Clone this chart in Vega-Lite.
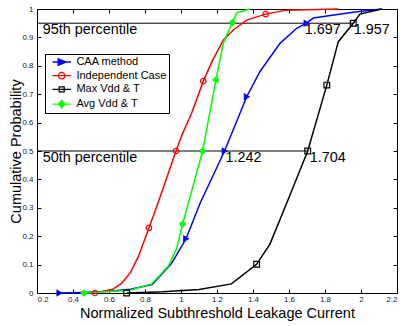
{
  "$schema": "https://vega.github.io/schema/vega-lite/v6.json",
  "width": 360,
  "height": 284,
  "autosize": {"type": "none"},
  "padding": {"left": 37, "top": 9, "right": 3, "bottom": 33},
  "background": "white",
  "config": {
    "font": "Liberation Sans",
    "view": {"stroke": "black", "strokeWidth": 1},
    "axis": {"grid": false, "domain": false, "tickColor": "black", "tickWidth": 1, "labelFont": "Liberation Sans", "labelFontSize": 8, "labelColor": "#222222", "titleFont": "Liberation Sans", "titleFontSize": 14.5, "titleFontWeight": "normal", "titleColor": "black"}
  },
  "datasets": {
    "lines": [
      {"series": "CAA method", "x": 0.324, "y": 0},
      {"series": "CAA method", "x": 0.45, "y": 0.002},
      {"series": "CAA method", "x": 0.6, "y": 0.006},
      {"series": "CAA method", "x": 0.72, "y": 0.013},
      {"series": "CAA method", "x": 0.84, "y": 0.03},
      {"series": "CAA method", "x": 0.948, "y": 0.105},
      {"series": "CAA method", "x": 1.028, "y": 0.191},
      {"series": "CAA method", "x": 1.106, "y": 0.316},
      {"series": "CAA method", "x": 1.242, "y": 0.5},
      {"series": "CAA method", "x": 1.365, "y": 0.691},
      {"series": "CAA method", "x": 1.439, "y": 0.78},
      {"series": "CAA method", "x": 1.55, "y": 0.879},
      {"series": "CAA method", "x": 1.643, "y": 0.932},
      {"series": "CAA method", "x": 1.697, "y": 0.95},
      {"series": "CAA method", "x": 1.735, "y": 0.968},
      {"series": "CAA method", "x": 1.976, "y": 0.99},
      {"series": "CAA method", "x": 2.115, "y": 1.0},
      {"series": "Independent Case", "x": 0.522, "y": 0},
      {"series": "Independent Case", "x": 0.62, "y": 0.013},
      {"series": "Independent Case", "x": 0.67, "y": 0.034},
      {"series": "Independent Case", "x": 0.717, "y": 0.07},
      {"series": "Independent Case", "x": 0.763, "y": 0.128},
      {"series": "Independent Case", "x": 0.822, "y": 0.229},
      {"series": "Independent Case", "x": 0.865, "y": 0.304},
      {"series": "Independent Case", "x": 0.92, "y": 0.404},
      {"series": "Independent Case", "x": 0.972, "y": 0.5},
      {"series": "Independent Case", "x": 1.009, "y": 0.562},
      {"series": "Independent Case", "x": 1.059, "y": 0.633},
      {"series": "Independent Case", "x": 1.124, "y": 0.746},
      {"series": "Independent Case", "x": 1.176, "y": 0.82},
      {"series": "Independent Case", "x": 1.235, "y": 0.89},
      {"series": "Independent Case", "x": 1.29, "y": 0.926},
      {"series": "Independent Case", "x": 1.365, "y": 0.961},
      {"series": "Independent Case", "x": 1.47, "y": 0.982},
      {"series": "Independent Case", "x": 1.587, "y": 0.996},
      {"series": "Independent Case", "x": 1.874, "y": 1.0},
      {"series": "Max Vdd & T", "x": 0.698, "y": 0},
      {"series": "Max Vdd & T", "x": 0.9, "y": 0.004},
      {"series": "Max Vdd & T", "x": 1.1, "y": 0.012},
      {"series": "Max Vdd & T", "x": 1.28, "y": 0.032},
      {"series": "Max Vdd & T", "x": 1.42, "y": 0.101},
      {"series": "Max Vdd & T", "x": 1.494, "y": 0.172},
      {"series": "Max Vdd & T", "x": 1.587, "y": 0.316},
      {"series": "Max Vdd & T", "x": 1.704, "y": 0.5},
      {"series": "Max Vdd & T", "x": 1.81, "y": 0.732},
      {"series": "Max Vdd & T", "x": 1.874, "y": 0.885},
      {"series": "Max Vdd & T", "x": 1.957, "y": 0.95},
      {"series": "Max Vdd & T", "x": 1.994, "y": 0.982},
      {"series": "Max Vdd & T", "x": 2.115, "y": 1.0},
      {"series": "Avg Vdd & T", "x": 0.461, "y": 0},
      {"series": "Avg Vdd & T", "x": 0.6, "y": 0.005},
      {"series": "Avg Vdd & T", "x": 0.717, "y": 0.01},
      {"series": "Avg Vdd & T", "x": 0.837, "y": 0.032},
      {"series": "Avg Vdd & T", "x": 0.93, "y": 0.095},
      {"series": "Avg Vdd & T", "x": 0.976, "y": 0.157},
      {"series": "Avg Vdd & T", "x": 1.009, "y": 0.243},
      {"series": "Avg Vdd & T", "x": 1.12, "y": 0.5},
      {"series": "Avg Vdd & T", "x": 1.194, "y": 0.75},
      {"series": "Avg Vdd & T", "x": 1.235, "y": 0.88},
      {"series": "Avg Vdd & T", "x": 1.285, "y": 0.952},
      {"series": "Avg Vdd & T", "x": 1.31, "y": 0.987},
      {"series": "Avg Vdd & T", "x": 1.383, "y": 1.0}
    ],
    "markers": [
      {"series": "CAA method", "x": 0.324, "y": 0},
      {"series": "CAA method", "x": 1.028, "y": 0.191},
      {"series": "CAA method", "x": 1.242, "y": 0.5},
      {"series": "CAA method", "x": 1.365, "y": 0.691},
      {"series": "CAA method", "x": 1.697, "y": 0.95},
      {"series": "Independent Case", "x": 0.522, "y": 0},
      {"series": "Independent Case", "x": 0.822, "y": 0.229},
      {"series": "Independent Case", "x": 0.972, "y": 0.5},
      {"series": "Independent Case", "x": 1.124, "y": 0.746},
      {"series": "Independent Case", "x": 1.47, "y": 0.982},
      {"series": "Max Vdd & T", "x": 0.698, "y": 0},
      {"series": "Max Vdd & T", "x": 1.42, "y": 0.101},
      {"series": "Max Vdd & T", "x": 1.704, "y": 0.5},
      {"series": "Max Vdd & T", "x": 1.81, "y": 0.732},
      {"series": "Max Vdd & T", "x": 1.957, "y": 0.95},
      {"series": "Avg Vdd & T", "x": 0.461, "y": 0},
      {"series": "Avg Vdd & T", "x": 1.009, "y": 0.243},
      {"series": "Avg Vdd & T", "x": 1.12, "y": 0.5},
      {"series": "Avg Vdd & T", "x": 1.194, "y": 0.75},
      {"series": "Avg Vdd & T", "x": 1.285, "y": 0.952}
    ],
    "rules": [
      {"x": 0.2, "x2": 1.957, "y": 0.95},
      {"x": 0.2, "x2": 1.704, "y": 0.5}
    ],
    "labels": [
      {"x": 0.232, "y": 0.95, "text": "95th percentile"},
      {"x": 0.232, "y": 0.5, "text": "50th percentile"},
      {"x": 1.688, "y": 0.95, "text": "1.697"},
      {"x": 1.96, "y": 0.95, "text": "1.957"},
      {"x": 1.247, "y": 0.5, "text": "1.242"},
      {"x": 1.715, "y": 0.5, "text": "1.704"}
    ]
  },
  "resolve": {"axis": {"x": "independent", "y": "independent"}},
  "layer": [
    {
      "data": {"name": "rules"},
      "mark": {"type": "rule", "color": "black", "strokeWidth": 1},
      "encoding": {
        "x": {"field": "x", "type": "quantitative", "scale": {"domain": [0.2, 2.2], "nice": false, "zero": false},
              "axis": {"orient": "top", "labels": false, "title": null, "tickSize": -4, "values": [0.2, 0.4, 0.6, 0.8, 1, 1.2, 1.4, 1.6, 1.8, 2, 2.2]}},
        "x2": {"field": "x2"},
        "y": {"field": "y", "type": "quantitative", "scale": {"domain": [0, 1], "nice": false},
              "axis": {"orient": "right", "labels": false, "title": null, "tickSize": -4, "values": [0, 0.1, 0.2, 0.3, 0.4, 0.5, 0.6, 0.7, 0.8, 0.9, 1]}}
      }
    },
    {
      "data": {"name": "labels"},
      "mark": {"type": "text", "align": "left", "baseline": "top", "fontSize": 14.4, "font": "Liberation Sans", "color": "black"},
      "encoding": {
        "x": {"field": "x", "type": "quantitative", "axis": null},
        "y": {"field": "y", "type": "quantitative", "axis": null},
        "text": {"field": "text"}
      }
    },
    {
      "data": {"name": "lines"},
      "mark": {"type": "line", "strokeWidth": 1.5},
      "encoding": {
        "x": {"field": "x", "type": "quantitative",
              "axis": {"orient": "bottom", "title": "Normalized Subthreshold Leakage Current", "format": "~g", "tickSize": -4, "labelPadding": 6, "titleBaseline": "alphabetic", "titleY": 24, "values": [0.2, 0.4, 0.6, 0.8, 1, 1.2, 1.4, 1.6, 1.8, 2, 2.2]}},
        "y": {"field": "y", "type": "quantitative",
              "axis": {"orient": "left", "title": "Cumulative Probability", "format": "~g", "tickSize": -4, "labelPadding": 8, "titleBaseline": "alphabetic", "titleX": -16.5, "values": [0, 0.1, 0.2, 0.3, 0.4, 0.5, 0.6, 0.7, 0.8, 0.9, 1]}},
        "color": {"field": "series", "type": "nominal",
                  "scale": {"domain": ["CAA method", "Independent Case", "Max Vdd & T", "Avg Vdd & T"], "range": ["#0000ff", "#ff0000", "#000000", "#00ff00"]},
                  "legend": {"title": null, "orient": "none", "legendX": 8, "legendY": 45, "padding": 2, "strokeColor": "black", "fillColor": "white",
                             "labelFont": "Liberation Sans", "labelFontSize": 11, "labelColor": "black", "labelExpr": "datum.label + '  '",
                             "symbolSize": 100, "symbolOffset": 8.7, "labelOffset": 8.7, "rowPadding": 1.7, "symbolStrokeWidth": 1.3,
                             "encoding": {"symbols": {
                               "shape": {"value": {"expr": "datum.value === 'CAA method' ? 'M-1.85,0L1.85,0M-0.7,-0.65L0.9,0L-0.7,0.65Z' : datum.value === 'Independent Case' ? 'M-1.85,0L1.85,0M0.65,0A0.65,0.65 0 1,1 -0.65,0A0.65,0.65 0 1,1 0.65,0Z' : datum.value === 'Max Vdd & T' ? 'M-1.85,0L1.85,0M-0.5,-0.5L0.5,-0.5L0.5,0.5L-0.5,0.5Z' : 'M-1.85,0L1.85,0M0,-0.75L0.6,0L0,0.75L-0.6,0Z'"}},
                               "fill": {"value": {"expr": "(datum.value === 'CAA method' || datum.value === 'Avg Vdd & T') ? scale('color', datum.value) : 'white'"}}
                             }}}}
      }
    },
    {
      "data": {"name": "markers"},
      "mark": {"type": "point", "filled": true, "strokeWidth": 1.2, "opacity": 1},
      "encoding": {
        "x": {"field": "x", "type": "quantitative", "axis": null},
        "y": {"field": "y", "type": "quantitative", "axis": null},
        "stroke": {"field": "series", "type": "nominal", "legend": null,
                   "scale": {"domain": ["Avg Vdd & T", "Max Vdd & T", "Independent Case", "CAA method"], "range": ["#00ff00", "#000000", "#ff0000", "#0000ff"]}},
        "fill": {"field": "series", "type": "nominal", "legend": null,
                 "scale": {"domain": ["Avg Vdd & T", "Max Vdd & T", "Independent Case", "CAA method"], "range": ["#00ff00", "transparent", "transparent", "#0000ff"]}},
        "shape": {"field": "series", "type": "nominal", "legend": null,
                  "scale": {"domain": ["Avg Vdd & T", "Max Vdd & T", "Independent Case", "CAA method"], "range": ["diamond", "square", "circle", "triangle-right"]}},
        "size": {"field": "series", "type": "nominal", "legend": null,
                 "scale": {"domain": ["Avg Vdd & T", "Max Vdd & T", "Independent Case", "CAA method"], "range": [35, 28, 40, 45]}}
      }
    }
  ]
}
